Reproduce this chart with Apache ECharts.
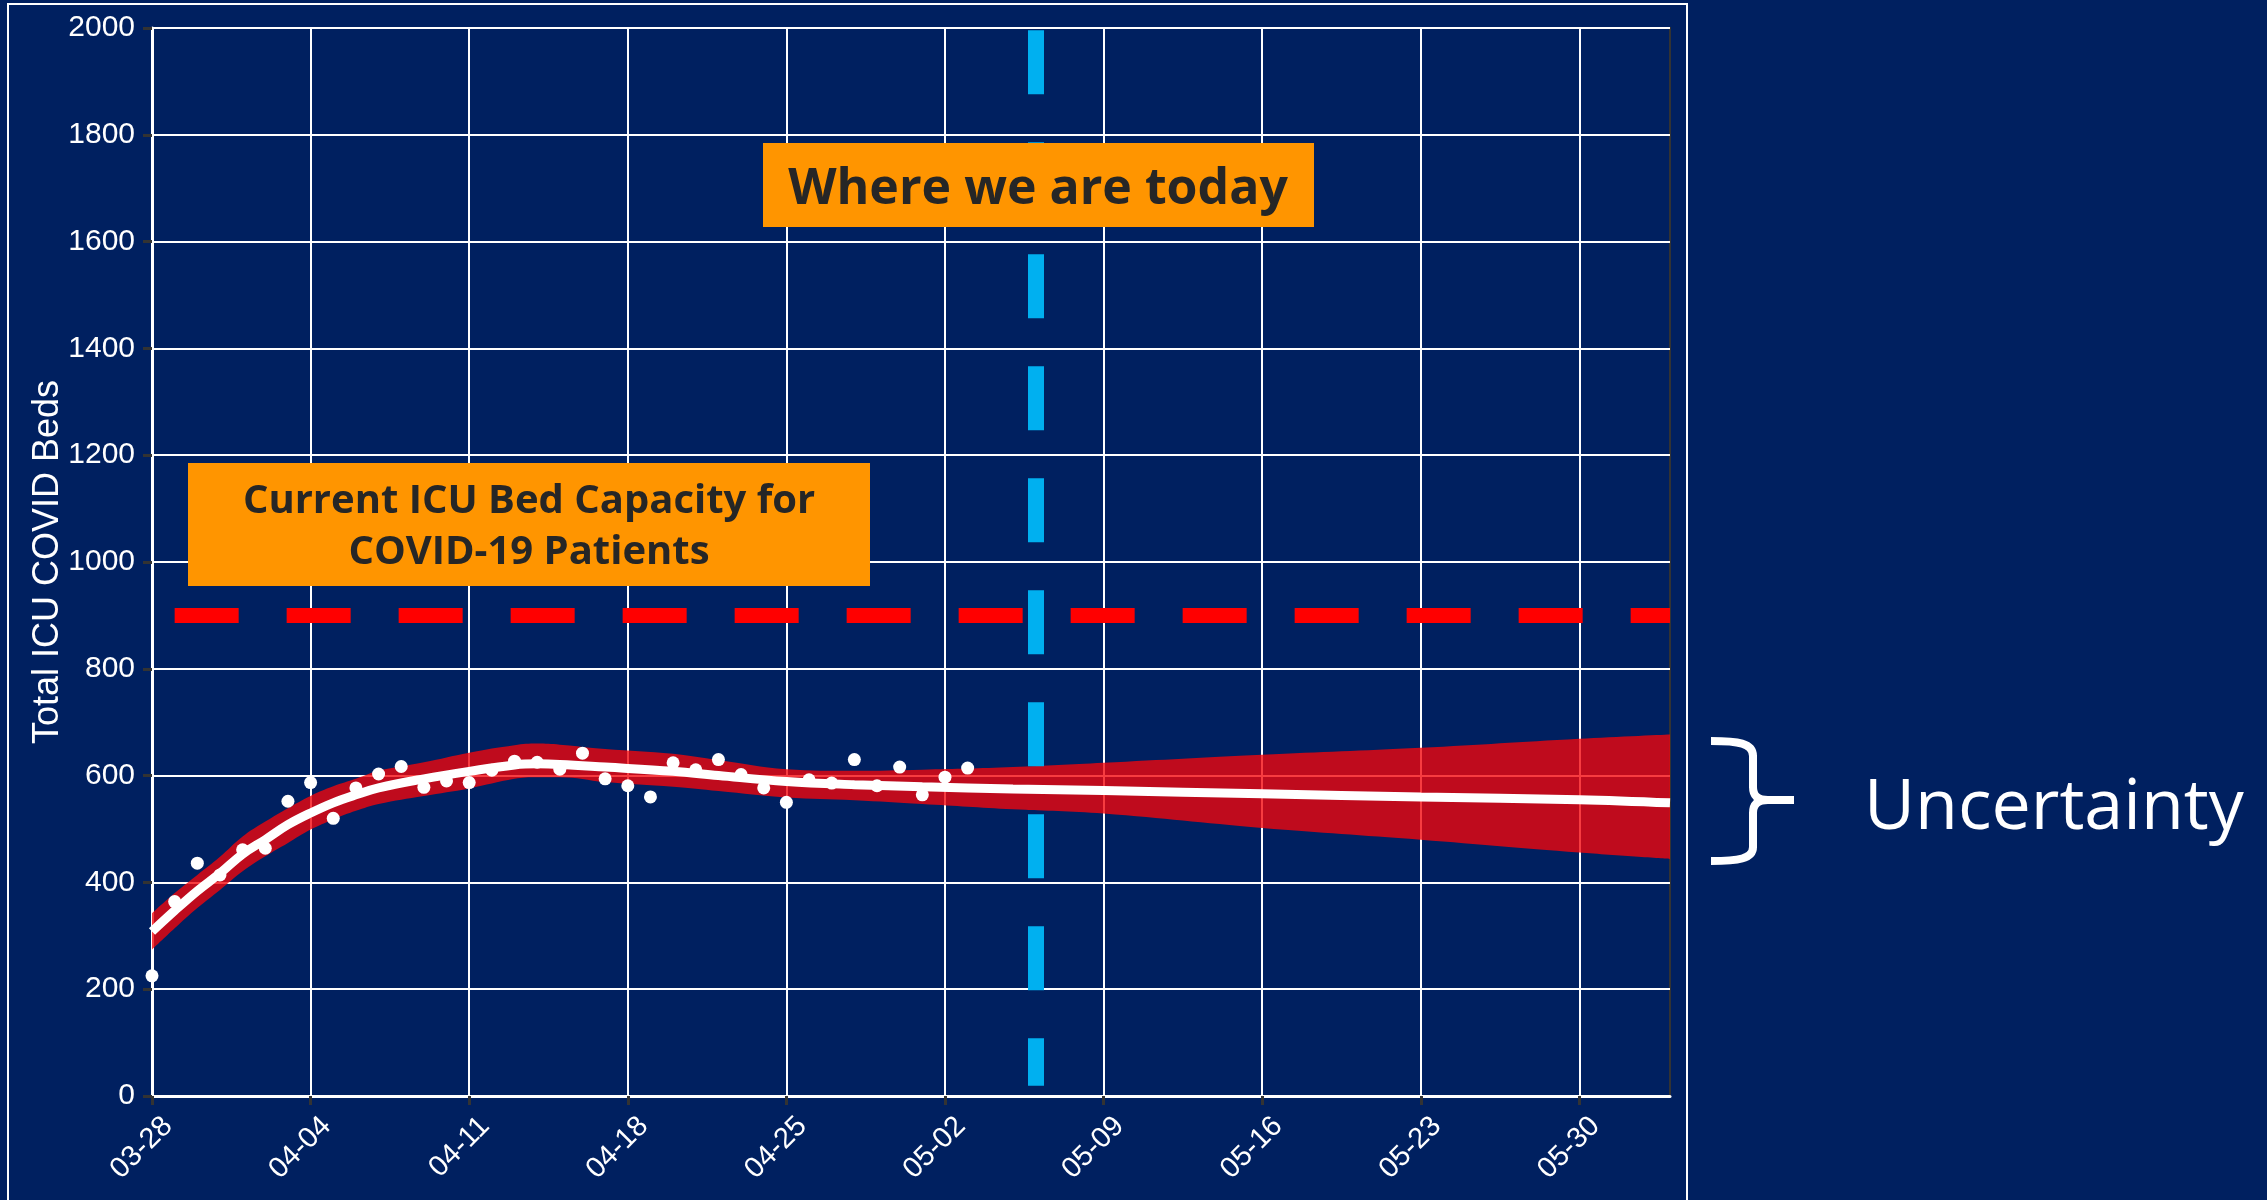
<!DOCTYPE html>
<html>
<head>
<meta charset="utf-8">
<title>Total ICU COVID Beds</title>
<script src="https://cdn.jsdelivr.net/npm/echarts/dist/echarts.min.js"></script>
<style>
  html, body { margin: 0; padding: 0; background: #002060; }
  #chart { width: 2267px; height: 1200px; }
</style>
</head>
<body>
<div id="chart"></div>
<script>
// x axis: one category per day, 03-28 (day 0) to 06-03 (day 67), label every 7 days
const startDate = Date.UTC(2020, 2, 28);
const dayCount = 68;
const tickEvery = 7;

// observed ICU beds, one value per day from 03-28
const observed = [225, 364, 436, 414, 461, 464, 552, 587, 520, 577, 603, 617, 578, 590, 587, 610, 627, 625,
  612, 642, 594, 581, 560, 624, 611, 630, 602, 577, 550, 592, 586, 630, 581, 616, 564, 597, 614];

const fitDays = [0, 1, 2, 3, 4, 5, 6, 7, 8, 9, 10, 12, 14, 16, 17, 18, 20, 23, 25, 28, 31, 34, 38, 42, 49, 56, 63, 67];
const fitValues = [308, 347, 384, 417, 453, 480, 508, 530, 549, 564, 577, 594, 608, 620, 622, 621, 616, 608, 600, 589, 583, 579, 575, 572, 566, 560, 555, 549];
const bandHigh = [342, 380, 414, 448, 486, 514, 539, 562, 580, 594, 609, 625, 643, 657, 660, 658, 650, 641, 629, 612, 609, 611, 616, 624, 639, 652, 669, 677];
const bandLow = [274, 314, 352, 386, 421, 449, 474, 499, 518, 534, 547, 562, 576, 594, 597, 597, 588, 579, 571, 559, 554, 547, 537, 529, 502, 480, 456, 444];

const capacity = 900;
const todayIndex = 39;

const days = [];
for (let i = 0; i < dayCount; i++) {
  const d = new Date(startDate + i * 86400000);
  days.push(String(d.getUTCMonth() + 1).padStart(2, '0') + '-' + String(d.getUTCDate()).padStart(2, '0'));
}

const axisFont = '"Liberation Sans", Arial, sans-serif';
const boxFont = '"Open Sans", "Noto Sans", sans-serif';
const showTick = (index) => index % tickEvery === 0;

// white curly brace next to the band end
const braceStyle = { fill: 'none', stroke: '#fff', lineWidth: 8 };
const brace = [
  { type: 'bezierCurve', shape: { x1: 1711, y1: 741, cpx1: 1738, cpy1: 741, cpx2: 1753, cpy2: 743, x2: 1753, y2: 756 } },
  { type: 'line', shape: { x1: 1753, y1: 755, x2: 1753, y2: 788 } },
  { type: 'bezierCurve', shape: { x1: 1753, y1: 787, cpx1: 1753, cpy1: 796, cpx2: 1758, cpy2: 800, x2: 1768, y2: 800 } },
  { type: 'line', shape: { x1: 1767, y1: 800, x2: 1794, y2: 800 } },
  { type: 'bezierCurve', shape: { x1: 1768, y1: 800, cpx1: 1758, cpy1: 800, cpx2: 1753, cpy2: 804, x2: 1753, y2: 813 } },
  { type: 'line', shape: { x1: 1753, y1: 812, x2: 1753, y2: 848 } },
  { type: 'bezierCurve', shape: { x1: 1753, y1: 847, cpx1: 1753, cpy1: 859, cpx2: 1738, cpy2: 861, x2: 1711, y2: 861 } },
].map((el) => ({ ...el, silent: true, style: braceStyle, z: 10 }));

const chart = echarts.init(document.getElementById('chart'));

const option = {
  backgroundColor: '#002060',
  animation: false,
  grid: {
    left: 152,
    right: 597,
    top: 28,
    bottom: 104,
    show: true,
    borderColor: '#333',
    borderWidth: 2,
  },
  xAxis: {
    type: 'category',
    data: days,
    boundaryGap: false,
    axisLine: { lineStyle: { color: '#fff', width: 3 } },
    axisTick: { interval: showTick, length: 9, lineStyle: { color: '#333', width: 3 } },
    axisLabel: {
      interval: showTick,
      rotate: 45,
      align: 'right',
      verticalAlign: 'top',
      margin: 21,
      padding: [0, -8, 0, 0],
      color: '#fff',
      fontSize: 29,
      fontFamily: axisFont,
    },
    splitLine: { show: true, interval: showTick, lineStyle: { color: '#fff', width: 2 } },
  },
  yAxis: {
    type: 'value',
    min: 0,
    max: 2000,
    interval: 200,
    name: 'Total ICU COVID Beds',
    nameLocation: 'middle',
    nameGap: 86,
    nameMoveOverlap: false,
    nameTextStyle: { color: '#fff', fontSize: 36, fontFamily: axisFont },
    axisLine: { show: true, lineStyle: { color: '#fff', width: 3 } },
    axisTick: { show: true, length: 9, lineStyle: { color: '#333', width: 3 } },
    axisLabel: {
      color: '#fff',
      fontSize: 30,
      margin: 17,
      fontFamily: axisFont,
      formatter: (v) => String(v),
    },
    splitLine: { lineStyle: { color: '#fff', width: 2 } },
  },
  series: [
    {
      name: 'bandBase',
      type: 'line',
      stack: 'band',
      smooth: 0.4,
      symbol: 'none',
      silent: true,
      lineStyle: { opacity: 0 },
      data: fitDays.map((d, i) => [d, bandLow[i]]),
      z: 1,
    },
    {
      name: 'band',
      type: 'line',
      stack: 'band',
      smooth: 0.4,
      symbol: 'none',
      silent: true,
      lineStyle: { opacity: 0 },
      areaStyle: { color: 'rgba(245, 5, 10, 0.78)', opacity: 1 },
      data: fitDays.map((d, i) => [d, bandHigh[i] - bandLow[i]]),
      z: 1,
    },
    {
      name: 'fit',
      type: 'line',
      smooth: 0.4,
      symbol: 'none',
      silent: true,
      lineStyle: { color: '#fff', width: 9 },
      data: fitDays.map((d, i) => [d, fitValues[i]]),
      z: 3,
      markLine: {
        silent: true,
        symbol: ['none', 'none'],
        label: { show: false },
        data: [
          [
            { coord: [1, capacity], lineStyle: { color: '#FF0000', width: 15, type: [64, 48] } },
            { coord: [dayCount - 1, capacity] },
          ],
          [
            { coord: [todayIndex, 1996], lineStyle: { color: '#00B0F0', width: 16, type: [64, 48] } },
            { coord: [todayIndex, 19] },
          ],
        ],
      },
    },
    {
      name: 'observed',
      type: 'scatter',
      symbolSize: 13,
      silent: true,
      itemStyle: { color: '#fff', opacity: 1 },
      data: observed,
      z: 4,
    },
  ],
  graphic: [
    {
      type: 'rect',
      silent: true,
      shape: { x: 8, y: 4, width: 1679, height: 1230 },
      style: { fill: 'none', stroke: '#fff', lineWidth: 2 },
      z: 0,
    },
    {
      type: 'rect',
      silent: true,
      shape: { x: 763, y: 143, width: 551, height: 84 },
      style: { fill: '#FF9500' },
      z: 10,
    },
    {
      type: 'text',
      silent: true,
      x: 1038,
      y: 190,
      style: {
        text: 'Where we are today',
        fontSize: 50,
        fontWeight: 'bold',
        fontFamily: boxFont,
        fill: '#262626',
        align: 'center',
        verticalAlign: 'middle',
      },
      z: 11,
    },
    {
      type: 'rect',
      silent: true,
      shape: { x: 188, y: 463, width: 682, height: 123 },
      style: { fill: '#FF9500' },
      z: 10,
    },
    {
      type: 'text',
      silent: true,
      x: 529,
      y: 527,
      style: {
        text: 'Current ICU Bed Capacity for\nCOVID-19 Patients',
        fontSize: 40,
        lineHeight: 51,
        fontWeight: 'bold',
        fontFamily: boxFont,
        fill: '#262626',
        align: 'center',
        verticalAlign: 'middle',
      },
      z: 11,
    },
    ...brace,
    {
      type: 'text',
      silent: true,
      x: 1864,
      y: 809,
      style: {
        text: 'Uncertainty',
        fontSize: 70,
        fontWeight: 'normal',
        fontFamily: boxFont,
        fill: '#fff',
        align: 'left',
        verticalAlign: 'middle',
      },
      z: 10,
    },
  ],
};

chart.setOption(option);
</script>
</body>
</html>
